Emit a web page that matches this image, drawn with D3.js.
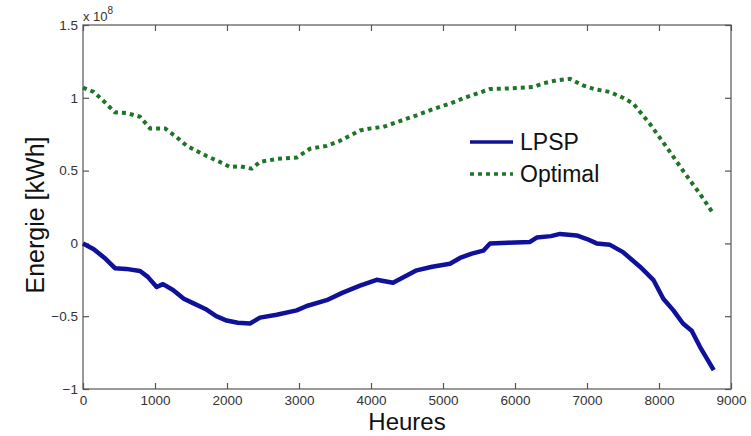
<!DOCTYPE html>
<html><head><meta charset="utf-8">
<script src="https://cdn.jsdelivr.net/npm/d3@7"></script>
<style>body{margin:0;background:#fff}svg{display:block}text{font-family:"Liberation Sans",Arial,sans-serif}</style>
</head><body><svg id="c" width="751" height="436"></svg>
<script>
const lpspHours = [0,150,300,444,600,792,900,1023,1111,1250,1400,1528,1700,1850,1995,2150,2320,2458,2690,2968,3107,3384,3600,3847,4079,4306,4634,4850,5097,5236,5400,5560,5653,5900,6208,6301,6500,6625,6856,7000,7134,7320,7500,7736,7921,8060,8200,8333,8454,8569,8760];
const lpspValues = [0,-0.04,-0.10,-0.17,-0.175,-0.19,-0.23,-0.30,-0.28,-0.32,-0.38,-0.41,-0.45,-0.50,-0.53,-0.545,-0.55,-0.51,-0.49,-0.46,-0.43,-0.39,-0.34,-0.29,-0.25,-0.27,-0.185,-0.16,-0.14,-0.10,-0.07,-0.05,0.0,0.005,0.01,0.04,0.05,0.065,0.055,0.03,0.0,-0.01,-0.06,-0.16,-0.25,-0.38,-0.46,-0.55,-0.60,-0.71,-0.87];
const optHours = [0,150,282,444,606,792,931,1139,1300,1440,1600,1718,1900,2042,2180,2343,2458,2690,2968,3153,3384,3550,3708,3847,4000,4171,4400,4634,4850,5097,5329,5653,5950,6250,6400,6579,6764,6944,7100,7320,7500,7643,7875,8107,8333,8450,8569,8760];
const optValues = [1.07,1.04,0.98,0.90,0.895,0.87,0.79,0.79,0.73,0.67,0.63,0.60,0.56,0.525,0.53,0.513,0.56,0.58,0.59,0.65,0.67,0.70,0.74,0.776,0.79,0.80,0.84,0.88,0.92,0.96,1.005,1.06,1.065,1.074,1.10,1.12,1.13,1.085,1.06,1.04,1.00,0.96,0.82,0.66,0.50,0.42,0.34,0.20];
const xTicks = [0,1000,2000,3000,4000,5000,6000,7000,8000,9000];
const yTicks = [-1,-0.5,0,0.5,1,1.5];
const seriesNames = ["LPSP","Optimal"];

const L=83,R=731,T=25,B=389;
const svg=d3.select("#c");
const x=d3.scaleLinear().domain([0,9000]).range([L,R]);
const y=d3.scaleLinear().domain([-1,1.5]).range([B,T]);
const axisColor="#555", textColor="#333";

svg.append("rect").attr("x",L).attr("y",T).attr("width",R-L).attr("height",B-T)
  .attr("fill","none").attr("stroke",axisColor).attr("stroke-width",1.2);

const tl=6;
const gx=svg.append("g").attr("transform",`translate(0,${B})`)
  .call(d3.axisBottom(x).tickValues(xTicks).tickFormat(d3.format("d")).tickSizeInner(-tl).tickSizeOuter(0).tickPadding(6));
const gxt=svg.append("g").attr("transform",`translate(0,${T})`)
  .call(d3.axisTop(x).tickValues(xTicks).tickFormat("").tickSizeInner(-tl).tickSizeOuter(0));
const gy=svg.append("g").attr("transform",`translate(${L},0)`)
  .call(d3.axisLeft(y).tickValues(yTicks).tickFormat(d=>d3.format("")(d)).tickSizeInner(-tl).tickSizeOuter(0).tickPadding(5));
const gyr=svg.append("g").attr("transform",`translate(${R},0)`)
  .call(d3.axisRight(y).tickValues(yTicks).tickFormat("").tickSizeInner(-tl).tickSizeOuter(0));
[gx,gxt,gy,gyr].forEach(g=>{
  g.select(".domain").remove();
  g.selectAll(".tick line").attr("stroke",axisColor).attr("stroke-width",1.2);
  g.selectAll(".tick text").attr("fill",textColor).attr("font-size",13.5);
});

const ex=svg.append("text").attr("x",L).attr("y",21).attr("fill",textColor).attr("font-size",13);
ex.append("tspan").text("x 10");
ex.append("tspan").attr("dy",-7).attr("font-size",10).text("8");

const line=d3.line().x(d=>x(d[0])).y(d=>y(d[1])).curve(d3.curveLinear);
const lpsp=lpspHours.map((h,i)=>[h,lpspValues[i]]);
const opt=optHours.map((h,i)=>[h,optValues[i]]);
svg.append("path").datum(opt).attr("d",line).attr("fill","none")
  .attr("stroke","#1e7428").attr("stroke-width",4).attr("stroke-dasharray","4,4");
svg.append("path").datum(lpsp).attr("d",line).attr("fill","none")
  .attr("stroke","#10119a").attr("stroke-width",4.5).attr("stroke-linejoin","round");

const lg=svg.append("g");
lg.append("line").attr("x1",470).attr("x2",513).attr("y1",142).attr("y2",142).attr("stroke","#10119a").attr("stroke-width",3.5);
lg.append("line").attr("x1",470).attr("x2",513).attr("y1",174).attr("y2",174).attr("stroke","#1e7428").attr("stroke-width",3.5).attr("stroke-dasharray","4,4");
lg.append("text").attr("x",520).attr("y",150).attr("font-size",23).attr("fill","#111").text(seriesNames[0]);
lg.append("text").attr("x",520).attr("y",182).attr("font-size",23).attr("fill","#111").text(seriesNames[1]);

svg.append("text").attr("x",(L+R)/2).attr("y",430).attr("text-anchor","middle").attr("font-size",24).attr("fill","#111").text("Heures");
svg.append("text").attr("transform",`translate(44,215) rotate(-90)`).attr("text-anchor","middle").attr("font-size",25).attr("fill","#111").text("Energie [kWh]");
</script></body></html>
